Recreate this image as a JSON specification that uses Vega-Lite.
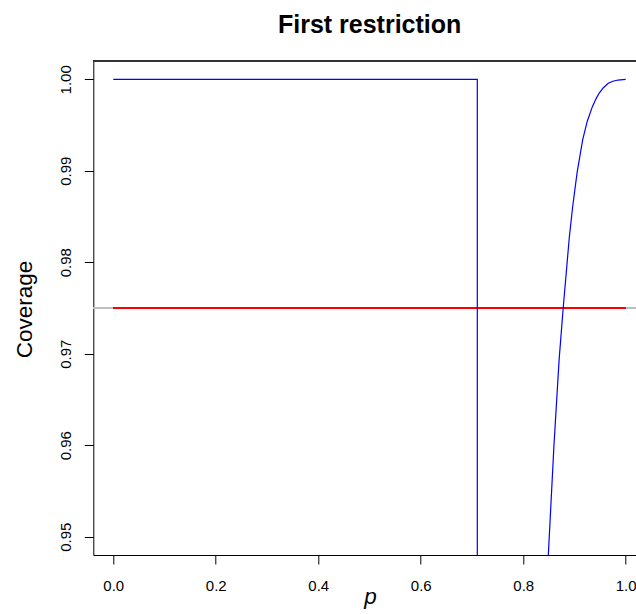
{
  "$schema": "https://vega.github.io/schema/vega-lite/v6.json",
  "width": 542.7,
  "height": 494,
  "autosize": {"type": "none"},
  "padding": {"left": 93.3, "top": 61, "right": 0, "bottom": 59},
  "background": "white",
  "config": {"view": {"stroke": null}, "font": "Liberation Sans"},
  "title": {
    "text": "First restriction",
    "font": "Liberation Sans",
    "fontSize": 25,
    "fontWeight": "bold",
    "color": "black",
    "anchor": "middle",
    "frame": "group",
    "baseline": "alphabetic",
    "offset": 2.5,
    "dx": 5
  },
  "data": {
    "values": [
      {"i": 1, "p": 0.0, "coverage": 1.0},
      {"i": 2, "p": 0.7104, "coverage": 1.0},
      {"i": 3, "p": 0.7104, "coverage": 0.9},
      {"i": 4, "p": 0.82, "coverage": 0.9},
      {"i": 5, "p": 0.83, "coverage": 0.9203},
      {"i": 6, "p": 0.84, "coverage": 0.936},
      {"i": 7, "p": 0.849, "coverage": 0.948},
      {"i": 8, "p": 0.86, "coverage": 0.96},
      {"i": 9, "p": 0.87, "coverage": 0.9693},
      {"i": 10, "p": 0.878, "coverage": 0.975},
      {"i": 11, "p": 0.89, "coverage": 0.98276},
      {"i": 12, "p": 0.8965, "coverage": 0.98607},
      {"i": 13, "p": 0.905, "coverage": 0.98974},
      {"i": 14, "p": 0.916, "coverage": 0.99337},
      {"i": 15, "p": 0.925, "coverage": 0.99542},
      {"i": 16, "p": 0.935, "coverage": 0.99701},
      {"i": 17, "p": 0.942, "coverage": 0.99786},
      {"i": 18, "p": 0.948, "coverage": 0.99847},
      {"i": 19, "p": 0.956, "coverage": 0.99905},
      {"i": 20, "p": 0.966, "coverage": 0.99956},
      {"i": 21, "p": 0.975, "coverage": 0.99979},
      {"i": 22, "p": 0.985, "coverage": 0.99992},
      {"i": 23, "p": 0.995, "coverage": 0.99997},
      {"i": 24, "p": 1.0, "coverage": 1.0}
    ]
  },
  "layer": [
    {
      "mark": {"type": "rule", "color": "#bebebe", "strokeWidth": 1},
      "encoding": {"y": {"datum": 0.975, "type": "quantitative"}}
    },
    {
      "mark": {"type": "rule", "color": "#ff0000", "strokeWidth": 1.2},
      "encoding": {
        "x": {"datum": 0, "type": "quantitative"},
        "x2": {"datum": 1},
        "y": {"datum": 0.975, "type": "quantitative"}
      }
    },
    {
      "mark": {"type": "line", "color": "#0000ff", "strokeWidth": 1.2, "clip": true},
      "encoding": {
        "order": {"field": "i", "type": "quantitative"},
        "x": {
          "field": "p",
          "type": "quantitative",
          "scale": {"domain": [-0.039, 1.0201], "nice": false, "zero": false},
          "axis": {
            "values": [0, 0.2, 0.4, 0.6, 0.8, 1.0],
            "format": ".1f",
            "grid": false,
            "title": "p",
            "titleFont": "Liberation Sans",
            "titleFontStyle": "italic",
            "titleFontWeight": "normal",
            "titleFontSize": 22.5,
            "titleColor": "black",
            "titleAlign": "center",
            "titleBaseline": "alphabetic",
            "titleX": 276.7,
            "titleY": 48,
            "labelFont": "Liberation Sans",
            "labelFontSize": 15,
            "labelColor": "black",
            "labelBaseline": "alphabetic",
            "labelPadding": 26.5,
            "labelFlush": false,
            "labelOverlap": false,
            "tickSize": 9,
            "tickColor": "black",
            "domainColor": "black"
          }
        },
        "y": {
          "field": "coverage",
          "type": "quantitative",
          "scale": {"domain": [0.948, 1.002], "nice": false, "zero": false},
          "axis": {
            "values": [0.95, 0.96, 0.97, 0.98, 0.99, 1.0],
            "format": ".2f",
            "grid": false,
            "title": "Coverage",
            "titleFont": "Liberation Sans",
            "titleFontWeight": "normal",
            "titleFontSize": 22.5,
            "titleColor": "black",
            "titleAngle": 270,
            "titleAlign": "center",
            "titleBaseline": "alphabetic",
            "titleX": -62.3,
            "titleY": 248,
            "labelFont": "Liberation Sans",
            "labelFontSize": 15,
            "labelColor": "black",
            "labelAngle": 270,
            "labelAlign": "center",
            "labelBaseline": "alphabetic",
            "labelPadding": 14,
            "labelFlush": false,
            "labelOverlap": false,
            "tickSize": 9,
            "tickColor": "black",
            "domainColor": "black"
          }
        }
      }
    },
    {
      "mark": {"type": "rule", "color": "#333333", "strokeWidth": 1},
      "encoding": {"y": {"datum": 1.002, "type": "quantitative"}}
    }
  ]
}
